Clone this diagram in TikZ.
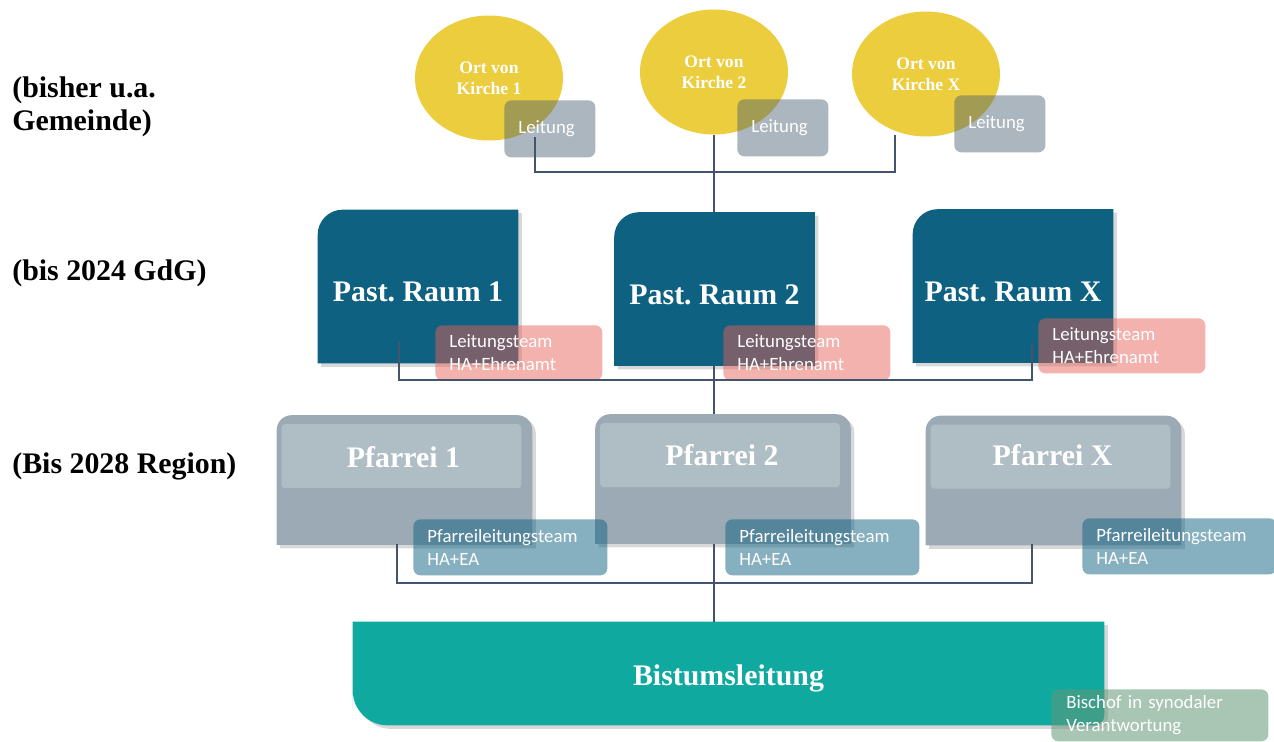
\documentclass[tikz,border=0pt]{standalone}
\usepackage{fontspec}
\setmainfont{Liberation Serif}
\newfontfamily\calfont{Carlito}
\usetikzlibrary{shapes.geometric,positioning,calc,backgrounds,shadows}
\definecolor{ortyellow} {RGB}{235,205,62}
\definecolor{leitgray}  {RGB}{71,95,111}
\definecolor{raumblue}  {RGB}{14,97,129}
\definecolor{teampink}  {RGB}{230,95,85}
\definecolor{pfarrgray} {RGB}{155,170,181}
\definecolor{pfarrband} {RGB}{175,189,197}
\definecolor{bistgreen} {RGB}{15,169,160}
\definecolor{bischsage} {RGB}{100,150,120}
\definecolor{connline}  {RGB}{68,84,106}
\frenchspacing
\tikzset{
  stufe/.style   ={anchor=west, align=left, inner sep=0pt,
                   font=\fontsize{17}{19}\selectfont\bfseries},
  ortnode/.style ={ellipse, fill=ortyellow, minimum width=2.96cm,
                   minimum height=2.5cm, inner sep=0pt, align=center,
                   text=white, font=\fontsize{10}{12}\selectfont\bfseries},
  smallbox/.style={rounded corners=4pt, anchor=north west, align=left,
                   text=white, inner xsep=0.28cm, inner ysep=0pt,
                   font=\calfont\fontsize{10.7}{13}\selectfont,
                   fill opacity=#1, text opacity=1},
  leitbox/.style ={smallbox=.45, fill=leitgray, text width=1.26cm,
                   minimum height=1.14cm},
  teambox/.style ={smallbox=.48, fill=teampink, text width=2.78cm,
                   minimum height=1.1cm},
  plbox/.style   ={smallbox=.5, fill=raumblue, text width=3.32cm,
                   minimum height=1.12cm},
  bischbox/.style={smallbox=.55, fill=bischsage, text width=3.74cm,
                   minimum height=1.04cm, inner xsep=0.3cm},
  bigfont/.style ={text=white, font=\fontsize{17}{20}\selectfont\bfseries},
  raumnode/.style={bigfont, minimum width=4cm, minimum height=3.06cm,
                   inner sep=0pt, text height=17.6pt, text depth=0pt},
  pfarrnode/.style={minimum width=5.1cm, minimum height=2.58cm,
                   inner sep=0pt},
  bistnode/.style={bigfont, minimum width=15.02cm, minimum height=2.06cm,
                   inner sep=0pt, text height=14.2pt, text depth=0pt},
  boxshadow/.style={drop shadow={shadow xshift=2pt, shadow yshift=-2pt,
                   opacity=.3}},
  conn/.style    ={draw=connline, line width=1pt},
}
\begin{document}
\begin{tikzpicture}[x=0.02cm, y=-0.02cm]
  \useasboundingbox (0,0) rectangle (1274,741);

  \node[stufe] (s1) at (12,107) {(bisher u.a.\\Gemeinde)};
  \node[stufe] (s2) at (12,273) {(bis 2024 GdG)};
  \node[stufe] (s3) at (12,466) {(Bis 2028 Region)};

  \node[ortnode] (E1) at (489,78) {Ort von\\Kirche 1};
  \node[ortnode] (E2) at (714,72) {Ort von\\Kirche 2};
  \node[ortnode] (E3) at (926,74) {Ort von\\Kirche X};
  \node[leitbox] (L1) at (504,100) {Leitung};
  \node[leitbox] (L2) at (737,99)  {Leitung};
  \node[leitbox] (L3) at (954,95)  {Leitung};

  \node[raumnode] (R1) at (418,286.5) {Past. Raum 1};
  \node[raumnode] (R2) at (714.5,289) {Past. Raum 2};
  \node[raumnode] (R3) at (1013,286)  {Past. Raum X};
  \node[teambox] (T1) at (435,325)  {Leitungsteam\\HA+Ehrenamt};
  \node[teambox] (T2) at (723,325)  {Leitungsteam\\HA+Ehrenamt};
  \node[teambox] (T3) at (1038,318) {Leitungsteam\\HA+Ehrenamt};

  \node[pfarrnode] (F1) at (404.5,480) {};
  \node[pfarrnode] (F2) at (723,479)   {};
  \node[pfarrnode] (F3) at (1053.5,480.5) {};
  \node[bigfont] (f1t) at ($(F1.north)+(-1,42)$) {Pfarrei 1};
  \node[bigfont] (f2t) at ($(F2.north)+(-1,41)$) {Pfarrei 2};
  \node[bigfont] (f3t) at ($(F3.north)+(-1,39)$) {Pfarrei X};
  \node[plbox] (P1) at (413,519)  {Pfarreileitungsteam\\HA+EA};
  \node[plbox] (P2) at (725,519)  {Pfarreileitungsteam\\HA+EA};
  \node[plbox] (P3) at (1082,518) {Pfarreileitungsteam\\HA+EA};

  \node[bistnode] (B) at (728.5,673.5) {Bistumsleitung};
  \node[bischbox] (BI) at (1051,689) {Bischof in synodaler\\Verantwortung};

  \begin{scope}[on background layer]
    \fill[white] (0,0) rectangle (1274,741);
    \fill[raumblue, boxshadow] (R1.west) [rounded corners=0.5cm] --
      (R1.north west) -- (R1.north) [sharp corners] -- (R1.north east) --
      (R1.south east) -- (R1.south west) -- cycle;
    \fill[raumblue, boxshadow] (R2.west) [rounded corners=0.5cm] --
      (R2.north west) -- (R2.north) [sharp corners] -- (R2.north east) --
      (R2.south east) -- (R2.south west) -- cycle;
    \fill[raumblue, boxshadow] (R3.west) [rounded corners=0.5cm] --
      (R3.north west) -- (R3.north) [sharp corners] -- (R3.north east) --
      (R3.south east) -- (R3.south west) -- cycle;
    \fill[pfarrgray, boxshadow] (F1.west) [rounded corners=0.3cm] --
      (F1.north west) -- (F1.north east) -- (F1.east) [sharp corners] --
      (F1.south east) -- (F1.south west) -- cycle;
    \fill[pfarrgray, boxshadow] (F2.west) [rounded corners=0.3cm] --
      (F2.north west) -- (F2.north east) -- (F2.east) [sharp corners] --
      (F2.south east) -- (F2.south west) -- cycle;
    \fill[pfarrgray, boxshadow] (F3.west) [rounded corners=0.3cm] --
      (F3.north west) -- (F3.north east) -- (F3.east) [sharp corners] --
      (F3.south east) -- (F3.south west) -- cycle;
    \fill[pfarrband, rounded corners=2pt] ($(F1.north west)+(5,9)$)
      rectangle ($(F1.north east)+(-11,73)$);
    \fill[pfarrband, rounded corners=2pt] ($(F2.north west)+(5,9)$)
      rectangle ($(F2.north east)+(-11,73)$);
    \fill[pfarrband, rounded corners=2pt] ($(F3.north west)+(5,9)$)
      rectangle ($(F3.north east)+(-11,73)$);
    \fill[bistgreen, boxshadow] (B.north west) -- (B.north east) --
      (B.east) [rounded corners=0.2cm] -- (B.south east) -- (B.south)
      [rounded corners=0.7cm] -- (B.south west) -- (B.west)
      [sharp corners] -- cycle;
  \end{scope}

  \coordinate (ortL) at (535,137);  \coordinate (ortR) at (895,135);
  \coordinate (ortJ) at (714,172);
  \coordinate (raumL) at (399,342); \coordinate (raumR) at (1032,343);
  \coordinate (raumJ) at (714,380);
  \coordinate (pfL) at (397,544);   \coordinate (pfR) at (1032,544);
  \coordinate (pfJ) at (714,583);

  \draw[conn](ortL)|-(ortJ)-|(ortR);\draw[conn](E2.south)--(E2.south|-R2.north);
  \draw[conn](raumL)|-(raumJ)-|(raumR);
  \draw[conn](raumJ|-R2.south)--(raumJ|-F2.north);
  \draw[conn](pfL)|-(pfJ)-|(pfR);\draw[conn](pfJ|-F2.south)--(pfJ|-B.north);
\end{tikzpicture}
\end{document}
